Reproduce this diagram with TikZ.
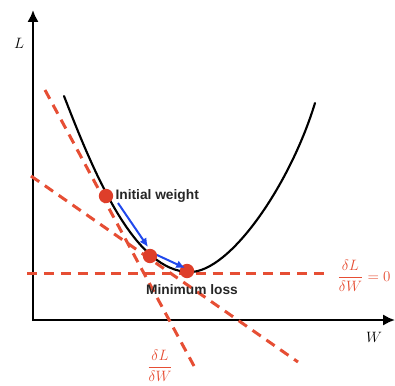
\documentclass[tikz,border=0pt]{standalone}
\usepackage{amsmath}
\usepackage{fontspec}
\setsansfont{Liberation Sans}
\usepackage{tikz}
\usetikzlibrary{arrows.meta,positioning,calc}
\definecolor{tanred}{RGB}{230,78,52}
\definecolor{dotred}{RGB}{222,62,42}
\definecolor{stepblue}{RGB}{32,72,236}

\begin{document}
\begin{tikzpicture}[
    x=0.8pt, y=-0.8pt,
    axis/.style={line width=2.2pt, -{Latex[length=9.5pt,width=9pt]}},
    tangent/.style={draw=tanred, line width=2.4pt, dash pattern=on 8pt off 5.5pt},
    wdot/.style={circle, fill=dotred, inner sep=0pt, minimum size=11.5pt},
    gdarrow/.style={draw=stepblue, line width=1.6pt, -{Latex[length=7pt,width=6.5pt]}},
    lbl/.style={font=\sffamily\bfseries\fontsize{11}{13}\selectfont, text=black!85, inner sep=1pt},
    deriv/.style={text=tanred, font=\fontsize{13}{15}\selectfont},
]
\useasboundingbox (0,0) rectangle (395,385);

% Axes
\coordinate (origin) at (33,320);
\coordinate (ytip) at (33,10);
\coordinate (xtip) at (395,320);
\draw[axis] ($(origin)+(0,1)$) -- (ytip);
\draw[axis] ($(origin)+(-1,0)$) -- (xtip);
\node[font=\large] (ylbl) at (19,43) {$L$};
\node[font=\large] (xlbl) at (374,337) {$W$};

% Tangent lines
\coordinate (ta1) at (45,90);
\coordinate (ta2) at (194,366);
\coordinate (tb1) at (31,176);
\coordinate (tb2) at (298,362);
\coordinate (tc1) at (27,273);
\coordinate (tc2) at (326,273);
\draw[tangent] (ta1) -- (ta2);
\draw[tangent] (tb1) -- (tb2);
\draw[tangent] (tc1) -- (tc2);

% Loss curve
\draw[line width=1.7pt, line cap=round] (64,96) .. controls (95,176) and (135,272) .. (190,272)
    .. controls (230,272) and (290,185) .. (315,103);

% Weights
\node[wdot] (init) at (106,196) {};
\node[wdot] (mid) at (150,256) {};
\node[wdot] (minpt) at (187,271) {};

% Gradient steps
\draw[gdarrow] ($(init)+(12,7)$) -- ($(mid)+(-2,-9)$);
\draw[gdarrow] ($(mid)+(7,-1)$) -- ($(minpt)+(-2,-3)$);

% Labels
\node[lbl, right=0.5pt of init] (initlbl) {Initial weight};
\node[lbl] (minlbl) at (192,290) {Minimum loss};
\node[deriv] (zerolbl) at (364,276) {$\dfrac{\delta L}{\delta W}=0$};
\node[deriv] (slopelbl) at (160,366) {$\dfrac{\delta L}{\delta W}$};

\end{tikzpicture}
\end{document}
